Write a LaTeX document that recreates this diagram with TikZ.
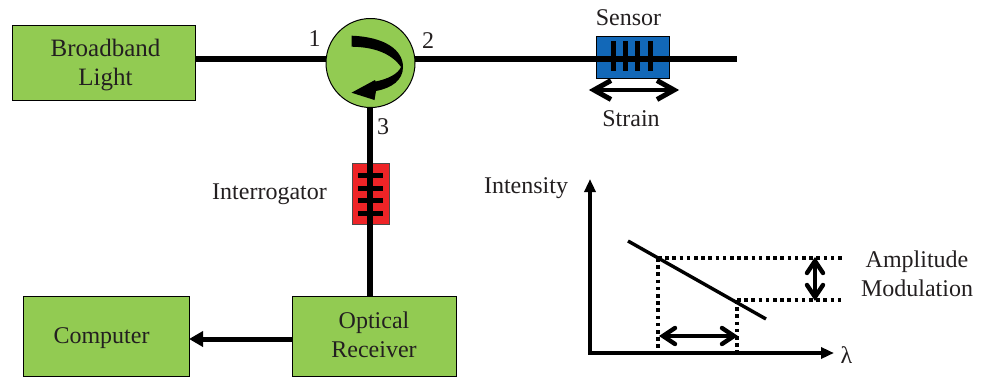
\documentclass[tikz,border=0pt]{standalone}
\usepackage{fontspec}
\setmainfont{Liberation Serif}
\definecolor{boxgreen}{HTML}{92CB52}
\definecolor{sblue}{HTML}{1268B8}
\definecolor{ired}{HTML}{EE2427}
\definecolor{txt}{HTML}{231F20}
\usetikzlibrary{arrows.meta}
\tikzset{
  x=1pt,y=-1pt,
  greenbox/.style={draw=black,line width=1pt,fill=boxgreen,minimum width=#1,inner sep=0pt},
  lbl/.style={text=txt,inner sep=0pt,align=center,font=\fontsize{24}{29}\selectfont},
  fibre/.style={line width=6pt,black},
  bar/.style={line width=5pt,black},
  axis/.style={line width=3.4pt,-{Triangle[length=13pt,width=11pt]}},
  dots/.style={line width=4pt,dash pattern=on 3.6pt off 3.6pt},
  shaft/.style={line width=3.4pt},
  barb/.style={line width=4.4pt,line cap=round,line join=miter},
}
\begin{document}
\begin{tikzpicture}
\useasboundingbox (0,0) rectangle (982,381);
% nodes
\node[greenbox=183pt,minimum height=75pt] (light) at (103.5,62.5) {};
\node[greenbox=164pt,minimum height=80pt] (rx) at (374,336) {};
\node[greenbox=166pt,minimum height=80pt] (pc) at (106,336) {};
\node[draw=black,line width=1pt,fill=boxgreen,circle,minimum size=89pt,inner sep=0pt] (circ) at (370.5,63) {};
\node[lbl,font=\fontsize{25}{29}\selectfont] (tlight) at (105.5,65) {Broadband\\Light};
\node[lbl] (trx) at (374,334.5) {Optical\\Receiver};
\node[lbl] (tpc) at (101.5,338) {Computer};
\coordinate (fibreend) at (737,59);
\coordinate (p2) at (415,59);
\coordinate (p1) at (326,59);
\coordinate (p3) at (370,108);
\coordinate (rxtop) at (370,296);
\coordinate (rxleft) at (292,339);
\coordinate (pcright) at (189,339);
% sensor
\node[draw=black,line width=1pt,fill=sblue,minimum width=73pt,minimum height=42pt,inner sep=0pt] (sensor) at (632.5,57) {};
% interrogator
\node[draw=black!70,line width=1pt,fill=ired,minimum width=37pt,minimum height=61pt,inner sep=0pt] (interr) at (370.5,193.5) {};
% fibres
\draw[fibre] (light.east |- p1) -- (p1);
\draw[fibre] (p2) -- (fibreend);
\draw[fibre] (p3) -- (rxtop);
\draw[line width=5pt,-{Triangle[length=14pt,width=15pt]}] (rxleft) -- (pcright);
% gratings
\foreach \x in {613,625,637,650} \draw[bar] (\x,41) -- (\x,71);
\foreach \y in {175,188,200,213} \draw[bar] (358,\y) -- (383,\y);
% circulator arrow
\fill[black] (351.7,35.7) .. controls (385,37) and (403,50) .. (403,67)
  .. controls (403,80) and (392,88) .. (376,91)
  -- (374.5,100) -- (351.5,92.7) -- (375,80) -- (375.5,81.5)
  .. controls (388,79) and (398,74) .. (401,67)
  .. controls (392,54) and (375,47) .. (351.7,46.7) -- cycle;
% strain
\coordinate (sl) at (594,90);
\coordinate (sr) at (674,90);
\draw[line width=3.5pt] (sl) -- (sr);
\draw[line width=5pt,line join=miter] (611,80.5) -- (sl) -- (611,99.5);
\draw[line width=5pt,line join=miter] (657,80.5) -- (sr) -- (657,99.5);
% labels
\node[lbl] (n1) at (314.5,39) {1};
\node[lbl] (n2) at (428,41) {2};
\node[lbl] (n3) at (383,127) {3};
\node[lbl] (ls) at (628.5,17.5) {Sensor};
\node[lbl] (lt) at (631,118.5) {Strain};
\node[lbl] (li) at (269.5,194) {Interrogator};
\node[lbl] (lint) at (526,188) {Intensity};
\node[lbl] (lam) at (846.5,355) {λ};
\node[lbl] (la) at (917,273.5) {Amplitude\\Modulation};
% graph
\coordinate (o) at (590,353);
\coordinate (ytop) at (590,179);
\coordinate (xend) at (834,353);
\draw[axis] (590,354.7) -- (ytop);
\draw[axis] (o) -- (xend);
\coordinate (a) at (628,241);
\coordinate (b) at (766,319);
\draw[line width=3.4pt] (a) -- (b);
\coordinate (d1) at (658,258);
\coordinate (d2) at (737,300);
\coordinate (d3) at (842,258);
\coordinate (d4) at (842,300);
\draw[dots] (d1) -- (d3);
\draw[dots] (d2) -- (d4);
\draw[dots] (d1) -- (d1 |- o);
\draw[dots] (d2) -- (d2 |- o);
\draw[shaft] (663,336) -- (734,336);
\draw[barb] (675,328) -- (663,336) -- (675,344);
\draw[barb] (722,328) -- (734,336) -- (722,344);
\draw[shaft] (815,261) -- (815,297);
\draw[barb] (807,273) -- (815,261) -- (823,273);
\draw[barb] (807,285) -- (815,297) -- (823,285);
\end{tikzpicture}
\end{document}
